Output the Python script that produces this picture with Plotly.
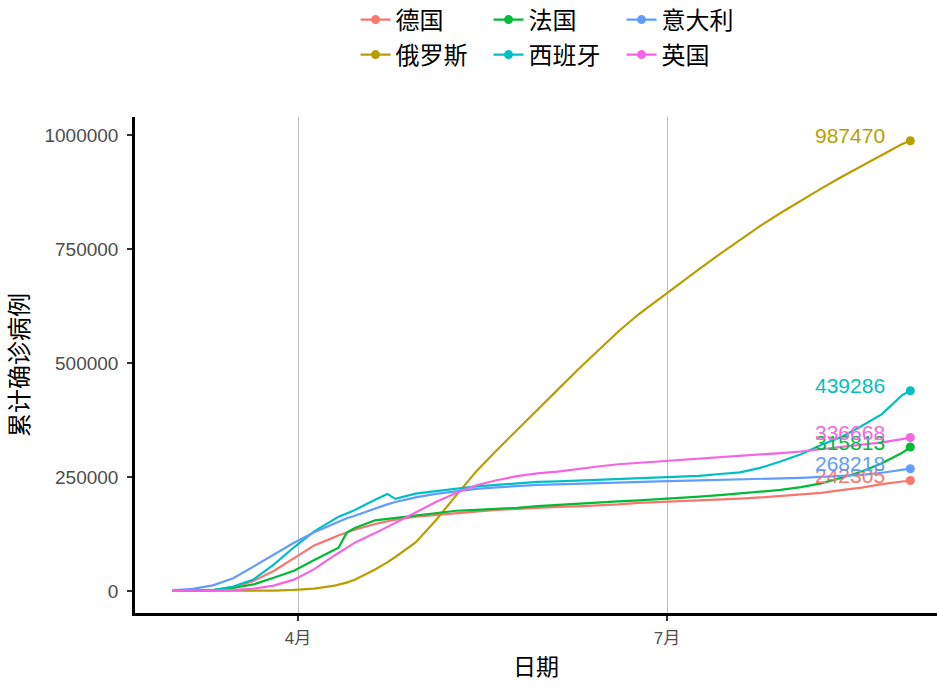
import plotly.graph_objects as go

dates = ["2020-03-01", "2020-03-06", "2020-03-11", "2020-03-16", "2020-03-21", "2020-03-26", "2020-03-31",
         "2020-04-05", "2020-04-10", "2020-04-11", "2020-04-13", "2020-04-15", "2020-04-20", "2020-04-23",
         "2020-04-25", "2020-04-30",
         "2020-05-05", "2020-05-10", "2020-05-15", "2020-05-20", "2020-05-25", "2020-05-30",
         "2020-06-04", "2020-06-09", "2020-06-14", "2020-06-19", "2020-06-24", "2020-06-29",
         "2020-07-04", "2020-07-09", "2020-07-14", "2020-07-19", "2020-07-24", "2020-07-29",
         "2020-08-03", "2020-08-08", "2020-08-13", "2020-08-18", "2020-08-23", "2020-08-28", "2020-08-30"]

germany = [130, 670, 1908, 7272, 22213, 43938, 71808,
           100123, 118181, 122171, 127854, 134753, 147065, 153129, 156513, 163009,
           167007, 171324, 174098, 177778, 180328, 182922,
           184543, 185750, 187423, 189822, 193243, 194826,
           196944, 198556, 200180, 202572, 205269, 208546,
           211005, 215336, 221413, 226700, 234494, 240986, 242305]

russia = [2, 4, 20, 90, 306, 840, 2337,
          5389, 11917, 13584, 18328, 24490, 47121, 62773, 74588, 106498,
          155370, 209688, 262843, 308705, 353427, 396575,
          441108, 485253, 528267, 569063, 606881, 640246,
          674515, 706240, 738787, 770311, 800849, 828990,
          856264, 882347, 907758, 932493, 956749, 980405, 987470]

france = [130, 653, 2284, 6650, 14459, 29155, 44550,
          68000, 90000, 95000, 128000, 138000, 155000, 158000, 160000, 166000,
          170000, 176000, 178000, 180000, 182500, 186000,
          189000, 191500, 194000, 196500, 198800, 201000,
          204000, 207000, 210500, 213500, 217800, 222000,
          228000, 236000, 248000, 262000, 280000, 303000, 315813]

spain = [84, 400, 2277, 9942, 25374, 57786, 95923,
         130759, 158273, 163027, 170099, 177633, 200210, 213000, 202000, 213435,
         219000, 224390, 229540, 232555, 235400, 239228,
         240326, 241966, 243605, 245268, 247086, 248970,
         250545, 252513, 256619, 260255, 270166, 284000,
         300000, 320000, 338000, 362000, 388000, 429507, 439286]

italy = [1694, 4636, 12462, 27980, 53578, 80589, 105792,
         128948, 147577, 152271, 159516, 165155, 181228, 189973, 195351, 205463,
         213013, 219070, 223885, 227364, 230158, 232664,
         234013, 235561, 236989, 238011, 239410, 240436,
         241419, 242363, 243230, 244434, 245590, 246776,
         248229, 250103, 252235, 254636, 259345, 265409, 268218]

uk = [36, 164, 459, 1950, 5067, 11812, 25000,
      48000, 78000, 84000, 95000, 106000, 127000, 140000, 149000, 172000,
      195000, 215000, 232000, 243000, 252000, 258000,
      262000, 268000, 273000, 278000, 281000, 284000,
      286000, 289000, 292000, 295500, 299000, 302500,
      306000, 311000, 315500, 320000, 326000, 333000, 336668]

countries = ["德国", "俄罗斯", "法国", "西班牙", "意大利", "英国"]
series = [germany, russia, france, spain, italy, uk]
colors = ["#F8766D", "#B79F00", "#00BA38", "#00BFC4", "#619CFF", "#F564E3"]
legend_row = ["legend", "legend2", "legend", "legend2", "legend", "legend2"]

x_tick_vals = ["2020-04-01", "2020-07-01"]
x_tick_text = ["4月", "7月"]
y_tick_vals = [0, 250000, 500000, 750000, 1000000]
y_tick_text = ["0", "250000", "500000", "750000", "1000000"]

FONT = "Liberation Sans, Arial, Noto Sans CJK SC, sans-serif"
CJK = "Noto Sans CJK SC, sans-serif"

fig = go.Figure()

for name, vals, col in zip(countries, series, colors):
    fig.add_trace(go.Scatter(x=dates, y=vals, mode="lines", name=name,
                             line=dict(color=col, width=2.2), showlegend=False,
                             hoverinfo="skip"))

# legend order: row 1 德国 法国 意大利, row 2 俄罗斯 西班牙 英国
legend_order = [0, 2, 4, 1, 3, 5]
for i in legend_order:
    fig.add_trace(go.Scatter(x=[dates[-1]], y=[series[i][-1]], mode="lines+markers",
                             name=countries[i], legend=legend_row[i],
                             line=dict(color=colors[i], width=2.2),
                             marker=dict(color=colors[i], size=9)))

for name, vals, col in zip(countries, series, colors):
    fig.add_annotation(x=dates[-1], y=vals[-1], text=str(vals[-1]), showarrow=False,
                       xanchor="right", yanchor="middle", xshift=-23, yshift=5,
                       font=dict(family=FONT, size=21, color=col))

fig.update_xaxes(type="date", range=["2020-02-20 19:00", "2020-09-05 14:00"],
                 tickvals=x_tick_vals, ticktext=x_tick_text,
                 showgrid=True, gridcolor="#BEBEBE", gridwidth=1,
                 showline=True, linecolor="black", linewidth=2.5,
                 ticks="outside", ticklen=5, tickwidth=2, tickcolor="#333333",
                 ticklabelstandoff=3, automargin=False,
                 tickfont=dict(family=FONT, size=17, color="#4D4D4D"),
                 title=dict(text="日期", font=dict(family=CJK, size=23, color="black"), standoff=12),
                 zeroline=False)

fig.update_yaxes(range=[-48200, 1039500], tickvals=y_tick_vals, ticktext=y_tick_text,
                 showgrid=False, showline=True, linecolor="black", linewidth=2.5,
                 ticks="outside", ticklen=5, tickwidth=2, tickcolor="#333333",
                 ticklabelstandoff=5, automargin=False,
                 tickfont=dict(family=FONT, size=19, color="#4D4D4D"),
                 title=dict(text="累计确诊病例", font=dict(family=CJK, size=24, color="black"), standoff=12),
                 zeroline=False)

leg_common = dict(orientation="h", xref="paper", xanchor="left", yref="container",
                  yanchor="middle", entrywidth=88, bgcolor="rgba(0,0,0,0)",
                  font=dict(family=CJK, size=24, color="black"), tracegroupgap=0)
fig.update_layout(
    width=937, height=687,
    margin=dict(l=135, r=0, t=117, b=74, autoexpand=False),
    paper_bgcolor="white", plot_bgcolor="white",
    font=dict(family=FONT),
    legend=dict(x=0.275, y=1 - 20 / 687, **leg_common),
    legend2=dict(x=0.275, y=1 - 55 / 687, **leg_common),
    hovermode=False,
)

fig.write_html("out.html", config={"displayModeBar": False},
               post_script="document.body.style.margin='0px';")
